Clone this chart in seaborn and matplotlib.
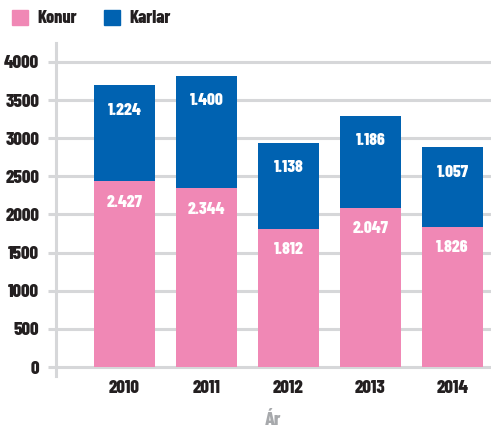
import pandas as pd
import seaborn as sns
import matplotlib.pyplot as plt

years = ["2010", "2011", "2012", "2013", "2014"]
# printed values
konur = [2427, 2344, 1812, 2047, 1826]
karlar = [1224, 1400, 1138, 1186, 1057]
# bar heights as drawn in the source chart (they don't all match the printed numbers)
konur_bar = [2435, 2344, 1810, 2085, 1836]
total_bar = [3698, 3820, 2938, 3292, 2885]

pink = "#F088B5"
blue = "#0062B1"
grid_gray = "#D6D7D9"
text_dark = "#231F20"

sns.set_theme(style="white")
plt.rcParams["font.family"] = ["Barlow Condensed", "DejaVu Sans"]
plt.rcParams["font.weight"] = 800

df = pd.DataFrame({"year": years, "Konur": konur, "Karlar": karlar,
                   "konur_bar": konur_bar, "total_bar": total_bar})

fig = plt.figure(figsize=(4.91, 4.32), dpi=100)
ax = fig.add_axes([56 / 491, 1 - 376 / 432, 1 - 56 / 491, (376 - 43) / 432])

# stacked bars: total in blue, women in pink over the lower part
sns.barplot(data=df, x="year", y="total_bar", color=blue, width=0.75,
            saturation=1, linewidth=0, ax=ax, zorder=3)
sns.barplot(data=df, x="year", y="konur_bar", color=pink, width=0.75,
            saturation=1, linewidth=0, ax=ax, zorder=3)

def fmt(v):
    return f"{v:,}".replace(",", ".")

for i, row in df.iterrows():
    ax.annotate(fmt(row["Konur"]), (i, row["konur_bar"]), xytext=(0, -15),
                textcoords="offset points", ha="center", va="center",
                color="white", fontsize=12.5, fontweight=800, zorder=4)
    ax.annotate(fmt(row["Karlar"]), (i, row["total_bar"]), xytext=(0, -18),
                textcoords="offset points", ha="center", va="center",
                color="white", fontsize=12.5, fontweight=800, zorder=4)

ax.set_xlim(-0.835, 4.47)
ax.set_ylim(-118, 4249)
ax.set_yticks(range(0, 4001, 500))
ax.yaxis.grid(True, color=grid_gray, linewidth=2.2, zorder=0)
ax.set_axisbelow(True)

for s in ["top", "right", "bottom"]:
    ax.spines[s].set_visible(False)
ax.spines["left"].set_color(grid_gray)
ax.spines["left"].set_linewidth(2.2)

ax.tick_params(axis="y", left=True, length=6, width=2.2, color=grid_gray,
               labelsize=13.5, labelcolor=text_dark, pad=6)
ax.tick_params(axis="x", bottom=False, labelsize=13.5, labelcolor=text_dark, pad=-3)
for lab in ax.get_xticklabels() + ax.get_yticklabels():
    lab.set_fontweight(800)

ax.set_ylabel("")
ax.set_xlabel("Ár", color="#A7A9AC", fontsize=14, fontweight=800, labelpad=11)

handles = [plt.Rectangle((0, 0), 1, 1, color=pink),
           plt.Rectangle((0, 0), 1, 1, color=blue)]
fig.legend(handles, ["Konur", "Karlar"], loc="upper left",
           bbox_to_anchor=(-0.009, 1.015), ncol=2, frameon=False,
           prop={"weight": 800, "size": 13}, handlelength=0.9,
           handleheight=0.9, handletextpad=0.5, columnspacing=1.5,
           labelcolor=text_dark)

fig.savefig("out.png", dpi=100)
